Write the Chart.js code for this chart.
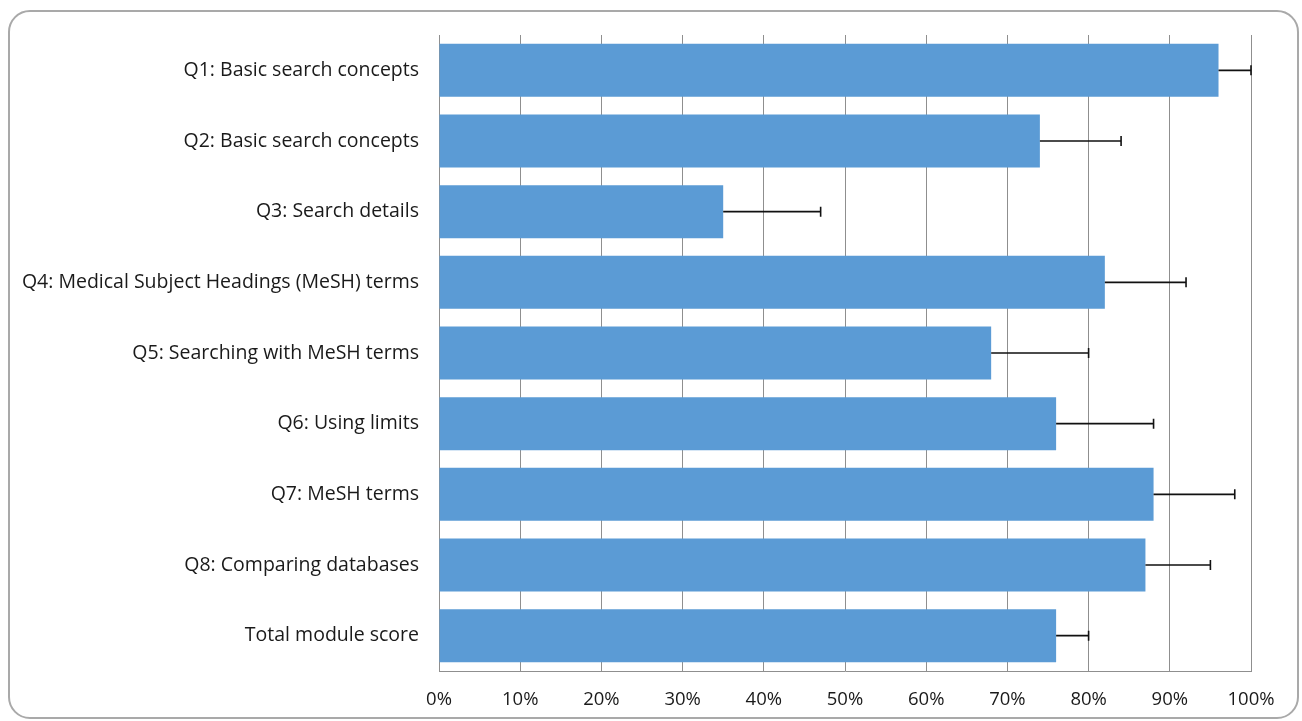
<!DOCTYPE html>
<html>
<head>
<meta charset="utf-8">
<script src="https://cdn.jsdelivr.net/npm/chart.js@4"></script>
<style>
  body { margin: 0; background: #fff; }
  #frame {
    position: absolute; left: 8px; top: 10px; width: 1287px; height: 705px;
    border: 2px solid #a9a9a9; border-radius: 22px;
  }
  #wrap { position: absolute; left: 0; top: 0; width: 1302px; height: 721px; }
</style>
</head>
<body>
<div id="frame"></div>
<div id="wrap"><canvas id="scoreChart" width="1302" height="721"></canvas></div>
<script>
// categories and values (percent correct)
const questions = [
    "Q1: Basic search concepts",
    "Q2: Basic search concepts",
    "Q3: Search details",
    "Q4: Medical Subject Headings (MeSH) terms",
    "Q5: Searching with MeSH terms",
    "Q6: Using limits",
    "Q7: MeSH terms",
    "Q8: Comparing databases",
    "Total module score"
];
const scores = [96, 74, 35, 82, 68, 76, 88, 87, 76];
const errorPlus = [4, 10, 12, 10, 12, 12, 10, 8, 4];
const xTicks = [0, 10, 20, 30, 40, 50, 60, 70, 80, 90, 100];

const fontFamily = "'Open Sans', 'Noto Sans', sans-serif";

// one-sided error bars drawn through the x scale
const errorBars = {
    id: "errorBars",
    afterDatasetsDraw(chart) {
        const c = chart.ctx;
        const xScale = chart.scales.x;
        const meta = chart.getDatasetMeta(0);
        c.save();
        c.strokeStyle = "#111";
        c.lineWidth = 1.6;
        meta.data.forEach((bar, i) => {
            const x0 = xScale.getPixelForValue(scores[i]);
            const x1 = xScale.getPixelForValue(scores[i] + errorPlus[i]);
            c.beginPath();
            c.moveTo(x0, bar.y);
            c.lineTo(x1, bar.y);
            c.moveTo(x1, bar.y - 5);
            c.lineTo(x1, bar.y + 5);
            c.stroke();
        });
        c.restore();
    }
};

const ctx = document.getElementById("scoreChart").getContext("2d");
new Chart(ctx, {
    type: "bar",
    data: {
        labels: questions,
        datasets: [{
            data: scores,
            backgroundColor: "#5b9bd5",
            borderWidth: 0,
            categoryPercentage: 1,
            barPercentage: 0.75
        }]
    },
    options: {
        indexAxis: "y",
        responsive: false,
        animation: false,
        layout: { padding: { top: 35, right: 51, left: 0, bottom: 0 } },
        plugins: { legend: { display: false }, tooltip: { enabled: false } },
        scales: {
            x: {
                min: 0, max: 100,
                afterBuildTicks: (scale) => { scale.ticks = xTicks.map(v => ({ value: v })); },
                afterFit: (scale) => { scale.height = 50; },
                grid: { color: "#8f8f8f", lineWidth: 1, drawTicks: false },
                border: { color: "#8f8f8f", width: 1 },
                ticks: {
                    padding: 18,
                    color: "#1a1a1a",
                    font: { family: fontFamily, size: 18.5 },
                    callback: (v) => v + "%"
                }
            },
            y: {
                afterFit: (scale) => { scale.width = 439; },
                grid: { display: false, drawTicks: false },
                border: { color: "#8f8f8f", width: 1 },
                ticks: {
                    padding: 20,
                    color: "#1a1a1a",
                    font: { family: fontFamily, size: 19.5 }
                }
            }
        }
    },
    plugins: [errorBars]
});
</script>
</body>
</html>
